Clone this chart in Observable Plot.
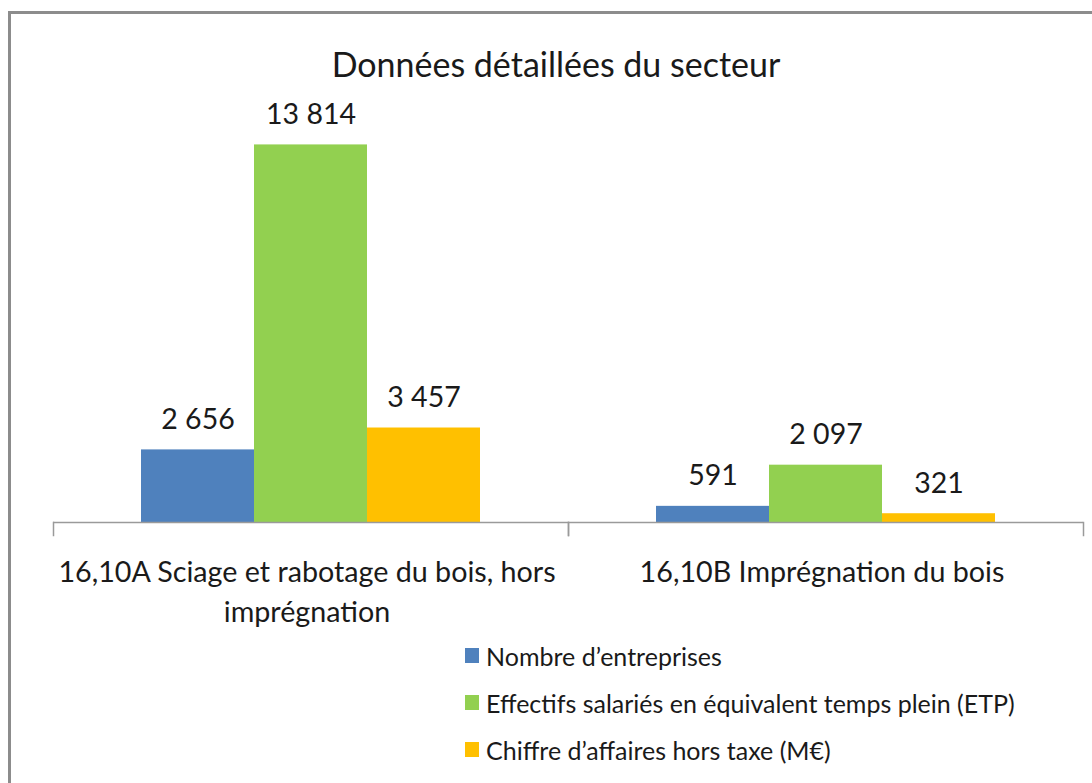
<!DOCTYPE html>
<html>
<head>
<meta charset="utf-8">
<script src="https://cdn.jsdelivr.net/npm/d3@7"></script>
<script src="https://cdn.jsdelivr.net/npm/@observablehq/plot@0.6"></script>
<style>
  html, body { margin: 0; padding: 0; background: #fff; }
  #page { position: relative; width: 1092px; height: 783px; overflow: hidden; font-family: Lato, sans-serif; color: #1a1a1a; }
  #border { position: absolute; left: 8px; top: 11px; width: 1200px; height: 900px; border-left: 3px solid #8c8c8c; border-top: 3px solid #8c8c8c; }
  #title { position: absolute; left: 10px; width: 1092px; top: 47px; text-align: center; font-size: 34px; line-height: 1; white-space: nowrap; }
  #chart { position: absolute; left: 0; top: 80px; }
  #legend { position: absolute; left: 465px; top: 632px; font-size: 25px; }
  .row { display: flex; align-items: center; height: 47px; white-space: nowrap; }
  .sw { width: 14px; height: 15px; margin-right: 7px; flex: none; }
</style>
</head>
<body>
<div id="page">
  <div id="border"></div>
  <div id="title"></div>
  <div id="chart"></div>
  <div id="legend"></div>
</div>
<script>
const title = "Données détaillées du secteur";
const categories = ["16,10A Sciage et rabotage du bois, hors imprégnation", "16,10B Imprégnation du bois"];
const categoryLabels = ["16,10A Sciage et rabotage du bois, hors\nimprégnation", "16,10B Imprégnation du bois"];
const series = ["Nombre d’entreprises", "Effectifs salariés en équivalent temps plein (ETP)", "Chiffre d’affaires hors taxe (M€)"];
const nombreEntreprises = [2656, 591];
const effectifsETP = [13814, 2097];
const chiffreAffaires = [3457, 321];
const colors = ["#4F81BD", "#92D050", "#FFC000"];

const values = [nombreEntreprises, effectifsETP, chiffreAffaires];
const data = [];
categories.forEach((c, i) => series.forEach((s, j) => data.push({category: c, series: s, value: values[j][i]})));

const fr = d3.formatLocale({decimal: ",", thousands: " ", grouping: [3], currency: ["", " €"]});
const fmt = fr.format(",d");

const W = 1092, H = 570, mt = 32, mb = 115, ml = 52, mr = 9;
const tickLen = 13;
const ymax = 15000;
const plotH = H - mt - mb;
const ymin = -tickLen * ymax / (plotH - tickLen);
const labelOf = new Map(categories.map((c, i) => [c, categoryLabels[i]]));
const font = 'Lato, sans-serif';

const chart = Plot.plot({
  width: W, height: H,
  marginTop: mt, marginBottom: mb, marginLeft: ml, marginRight: mr,
  style: {fontFamily: font, background: "transparent", overflow: "visible", color: "#1a1a1a"},
  fx: {domain: categories, padding: 0, axis: null},
  x: {domain: series, paddingInner: 0, paddingOuter: 0.76, axis: null},
  y: {domain: [ymin, ymax], axis: null},
  color: {domain: series, range: colors},
  marks: [
    Plot.barY(data, {fx: "category", x: "series", y: "value", fill: "series"}),
    Plot.ruleY([0], {stroke: "#9a9a9a", strokeWidth: 1.5}),
    Plot.frame({anchor: "left", insetTop: plotH - tickLen, stroke: "#9a9a9a", strokeWidth: 1.5}),
    Plot.frame({anchor: "right", insetTop: plotH - tickLen, stroke: "#9a9a9a", strokeWidth: 1.5}),
    Plot.text(data, {fx: "category", x: "series", y: "value", text: d => fmt(d.value), dy: -21, lineAnchor: "bottom", fontSize: 28.5, fill: "#1a1a1a"}),
    Plot.text(categories, {fx: d => d, text: d => labelOf.get(d), frameAnchor: "bottom", lineAnchor: "top", dy: 18, dx: -4, fontSize: 28.7, lineHeight: 40/28.7, fill: "#1a1a1a"})
  ]
});
document.getElementById("chart").appendChild(chart);
document.getElementById("title").textContent = title;

const legend = document.getElementById("legend");
series.forEach((s, i) => {
  const row = document.createElement("div");
  row.className = "row";
  const sw = document.createElement("span");
  sw.className = "sw";
  sw.style.background = colors[i];
  const t = document.createElement("span");
  t.textContent = s;
  row.appendChild(sw); row.appendChild(t);
  legend.appendChild(row);
});
</script>
</body>
</html>
